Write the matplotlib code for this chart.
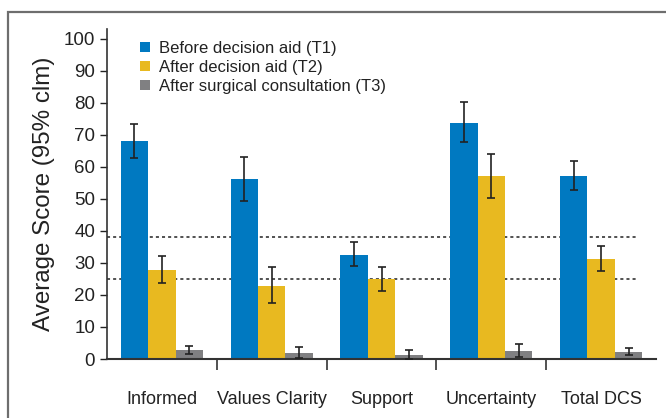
import numpy as np
import matplotlib.pyplot as plt
from matplotlib.patches import Rectangle

# Scores per subscale and time point
categories = ["Informed", "Values Clarity", "Support", "Uncertainty", "Total DCS"]
series_names = ["Before decision aid (T1)", "After decision aid (T2)", "After surgical consultation (T3)"]

t1 = [68.1, 56.3, 32.6, 73.8, 57.2]
t1_lo = [62.8, 49.4, 29.0, 67.6, 52.9]
t1_hi = [73.5, 63.0, 36.4, 80.1, 61.7]

t2 = [27.9, 22.9, 24.9, 57.2, 31.3]
t2_lo = [23.8, 17.4, 21.2, 50.4, 27.6]
t2_hi = [32.0, 28.7, 28.7, 64.0, 35.4]

t3 = [2.9, 2.0, 1.4, 2.6, 2.3]
t3_lo = [1.7, 0.3, 0.1, 0.6, 1.2]
t3_hi = [4.2, 3.9, 2.9, 4.7, 3.4]

thresholds = [38, 25]

colors = ["#0079c1", "#e8b920", "#808082"]

plt.rcParams["font.family"] = ["Liberation Sans", "DejaVu Sans"]

fig = plt.figure(figsize=(6.66, 4.18), dpi=100)
# outer frame, only left and top edges fall inside the picture
fig.patches.append(Rectangle((8 / 666, -0.1), 1.2, 1 - 12 / 418 + 0.1,
                             transform=fig.transFigure, fill=False,
                             edgecolor="#6e6e6e", linewidth=1.6))
ax = fig.add_axes([107 / 666, 1 - 359 / 418, (656 - 107) / 666, (359 - 29) / 418])

x = np.arange(len(categories))
width = 0.25
for i, (vals, lo, hi) in enumerate([(t1, t1_lo, t1_hi), (t2, t2_lo, t2_hi), (t3, t3_lo, t3_hi)]):
    vals = np.array(vals)
    err = [vals - np.array(lo), np.array(hi) - vals]
    pos = x + (i - 1) * width
    ax.bar(pos, vals, width, color=colors[i], label=series_names[i], zorder=2)
    ax.errorbar(pos, vals, yerr=err, fmt="none", ecolor="#222222",
                elinewidth=1.2, capsize=3, capthick=1.2, zorder=3)

for t in thresholds:
    ax.hlines(t, -0.5, 4.34, colors="#222222", linestyles=(0, (2, 2)), linewidth=1.1, zorder=1)

ax.set_xlim(-0.5, 4.5)
ax.set_ylim(0, 103)
ax.set_yticks(np.arange(0, 101, 10))
ax.tick_params(axis="y", labelsize=13.5, colors="#222222", length=5, width=1, direction="out")

ax.set_xticks(x)
ax.set_xticklabels(categories, fontsize=13, color="#222222")
ax.tick_params(axis="x", length=0, pad=23)
ax.set_xticks(x[:-1] + 0.5, minor=True)
ax.tick_params(axis="x", which="minor", length=8, width=1.2, color="#333333", direction="out")

for s in ["top", "right"]:
    ax.spines[s].set_visible(False)
ax.spines["left"].set_color("#333333")
ax.spines["bottom"].set_color("#333333")
ax.spines["left"].set_linewidth(1.2)
ax.spines["bottom"].set_linewidth(1.5)

ax.set_ylabel("Average Score (95% clm)", fontsize=17.4, color="#222222", labelpad=6)

ax.legend(loc="upper left", bbox_to_anchor=(0.032, 1.01), frameon=False, fontsize=12,
          handlelength=0.6, handleheight=0.6, handletextpad=0.55, labelspacing=0.25,
          labelcolor="#222222")

fig.savefig("out.png", dpi=100)
